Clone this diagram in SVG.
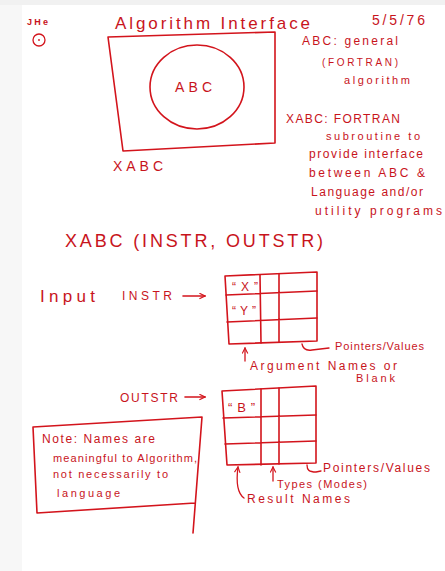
<svg xmlns="http://www.w3.org/2000/svg" width="445" height="571" viewBox="0 0 445 571">
<style>
  .ink { fill: none; stroke: #d3141c; stroke-width: 1.6; stroke-linejoin: round; stroke-linecap: round; }
  .thin { fill: none; stroke: #d3141c; stroke-width: 1.3; stroke-linecap: round; stroke-linejoin: round; }
  text { font-family: "Liberation Sans", Arial, sans-serif; fill: #c8141c; }
  .t18 { font-size: 18px; }
  .t17 { font-size: 17px; }
  .t14 { font-size: 14px; }
  .t13 { font-size: 13px; }
  .t12 { font-size: 12px; }
  .t11 { font-size: 11px; }
  .t10 { font-size: 10px; }
  .t9 { font-size: 9px; }
</style>
<defs>
  <marker id="head" viewBox="0 0 10 10" refX="9" refY="5" markerWidth="7" markerHeight="7" orient="auto-start-reverse" markerUnits="userSpaceOnUse">
    <path d="M1,1 L9,5 L1,9" fill="none" stroke="#d3141c" stroke-width="1.6"/>
  </marker>
</defs>

<rect x="0" y="0" width="445" height="571" fill="#ffffff"/>
<rect x="0" y="0" width="22" height="571" fill="#f7f7f7"/>
<rect x="0" y="0" width="445" height="5" fill="#f1f1f1"/>

<g id="initials">
  <text class="t9" x="27" y="25" textLength="21" font-weight="bold">JHe</text>
  <circle class="thin" cx="39" cy="40" r="6"/>
  <circle cx="39" cy="40" r="0.9" fill="#d3141c"/>
</g>

<g id="title">
  <text class="t17" x="115" y="29" textLength="195" lengthAdjust="spacing">Algorithm Interface</text>
</g>
<g id="date">
  <text class="t14" x="372" y="25" textLength="53" lengthAdjust="spacing">5/5/76</text>
</g>

<g id="xabc-box">
  <polygon class="ink" points="108,37 275,32 275,143 123,151"/>
  <text class="t14" x="113" y="171" textLength="50" lengthAdjust="spacing">XABC</text>
</g>
<g id="abc-circle">
  <ellipse class="ink" cx="197" cy="87" rx="47" ry="42"/>
  <text class="t14" x="175" y="92" textLength="37" lengthAdjust="spacing">ABC</text>
</g>

<g id="definitions">
  <text class="t12" x="302" y="45" textLength="96" lengthAdjust="spacing">ABC: general</text>
  <text class="t10" x="322" y="66" textLength="76" lengthAdjust="spacing">(FORTRAN)</text>
  <text class="t11" x="344" y="84" textLength="66" lengthAdjust="spacing">algorithm</text>
  <text class="t12" x="286" y="123" textLength="114" lengthAdjust="spacing">XABC: FORTRAN</text>
  <text class="t11" x="326" y="140" textLength="94" lengthAdjust="spacing">subroutine to</text>
  <text class="t12" x="309" y="158" textLength="114" lengthAdjust="spacing">provide interface</text>
  <text class="t12" x="309" y="177" textLength="116" lengthAdjust="spacing">between ABC &amp;</text>
  <text class="t12" x="311" y="196" textLength="112" lengthAdjust="spacing">Language and/or</text>
  <text class="t12" x="315" y="215" textLength="127" lengthAdjust="spacing">utility programs</text>
</g>

<g id="call">
  <text class="t18" x="65" y="247" textLength="258" lengthAdjust="spacing">XABC (INSTR, OUTSTR)</text>
</g>

<g id="input-label">
  <text class="t17" x="40" y="302" textLength="55" lengthAdjust="spacing">Input</text>
  <text class="t12" x="122" y="300" textLength="50" lengthAdjust="spacing">INSTR</text>
</g>

<g id="instr-grid">
  <polygon class="ink" points="225,276 317,272 317,341 229,344"/>
  <path class="ink" d="M260,275 L261,343 M279,274 L279,342 M226,295 L317,291 M227,322 L317,318"/>
  <text class="t12" x="232" y="291" textLength="26" lengthAdjust="spacing">“X”</text>
  <text class="t12" x="232" y="315" textLength="24" lengthAdjust="spacing">“Y”</text>
</g>

<g id="outstr-label">
  <text class="t12" x="120" y="402" textLength="58" lengthAdjust="spacing">OUTSTR</text>
</g>

<g id="outstr-grid">
  <polygon class="ink" points="222,391 316,386 316,463 227,465"/>
  <path class="ink" d="M261,389 L261,465 M279,388 L279,464 M223,418 L316,415 M225,444 L316,441"/>
  <text class="t13" x="228" y="412" textLength="27" lengthAdjust="spacing">“B”</text>
</g>

<g id="grid-labels">
  <text class="t11" x="335" y="350" textLength="89" lengthAdjust="spacing">Pointers/Values</text>
  <text class="t12" x="250" y="370" textLength="147" lengthAdjust="spacing">Argument Names or</text>
  <text class="t11" x="356" y="382" textLength="39" lengthAdjust="spacing">Blank</text>
  <text class="t12" x="323" y="472" textLength="107" lengthAdjust="spacing">Pointers/Values</text>
  <text class="t11" x="277" y="488" textLength="90" lengthAdjust="spacing">Types (Modes)</text>
  <text class="t12" x="247" y="503" textLength="103" lengthAdjust="spacing">Result Names</text>
</g>

<g id="note-box">
  <path class="ink" d="M33,427 L202,417 L193,533 M33,427 L37,513 L195,503"/>
  <text class="t12" x="42" y="443" textLength="113" lengthAdjust="spacing">Note: Names are</text>
  <text class="t11" x="53" y="462" textLength="144" lengthAdjust="spacing">meaningful to Algorithm,</text>
  <text class="t11" x="53" y="478" textLength="115" lengthAdjust="spacing">not necessarily to</text>
  <text class="t11" x="57" y="497" textLength="63" lengthAdjust="spacing">language</text>
</g>

<g id="connectors">
  <path class="ink" d="M183,296 L205,296" marker-end="url(#head)"/>
  <path class="ink" d="M185,397 L205,397" marker-end="url(#head)"/>
  <path class="thin" d="M245,361 L245,348" marker-end="url(#head)"/>
  <path class="thin" d="M302,344 C303,349 306,351 312,350 L329,348"/>
  <path class="thin" d="M244,498 C237,493 236,482 238,467" marker-end="url(#head)"/>
  <path class="thin" d="M273,481 L273,467" marker-end="url(#head)"/>
  <path class="thin" d="M307,465 C307,470 309,472 316,472 L321,471"/>
</g>
</svg>
